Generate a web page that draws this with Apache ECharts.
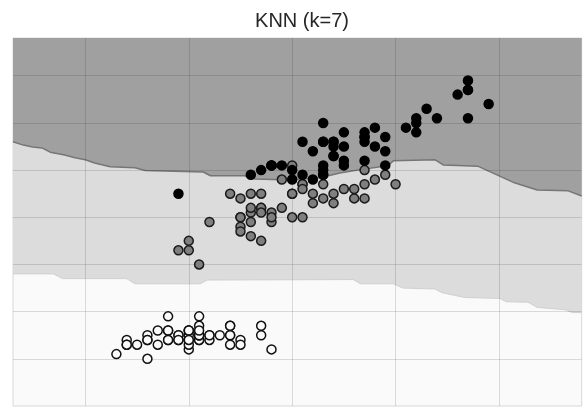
<!DOCTYPE html>
<html>
<head>
<meta charset="utf-8">
<script src="https://cdn.jsdelivr.net/npm/echarts@6/dist/echarts.min.js"></script>
<style>html,body{margin:0;padding:0;background:#fff;}#c{width:587px;height:409px;}</style>
</head>
<body>
<div id="c"></div>
<script>
// Iris: sepal length (x) vs petal length (y)
const setosaX = [5.1,4.9,4.7,4.6,5.0,5.4,4.6,5.0,4.4,4.9,5.4,4.8,4.8,4.3,5.8,5.7,5.4,5.1,5.7,5.1,5.4,5.1,4.6,5.1,4.8,5.0,5.0,5.2,5.2,4.7,4.8,5.4,5.2,5.5,4.9,5.0,5.5,4.9,4.4,5.1,5.0,4.5,4.4,5.0,5.1,4.8,5.1,4.6,5.3,5.0];
const setosaY = [1.4,1.4,1.3,1.5,1.4,1.7,1.4,1.5,1.4,1.5,1.5,1.6,1.4,1.1,1.2,1.5,1.3,1.4,1.7,1.5,1.7,1.5,1.0,1.7,1.9,1.6,1.6,1.5,1.4,1.6,1.6,1.5,1.5,1.4,1.5,1.2,1.3,1.4,1.3,1.5,1.3,1.3,1.3,1.6,1.9,1.4,1.6,1.4,1.5,1.4];
const versiX = [7.0,6.4,6.9,5.5,6.5,5.7,6.3,4.9,6.6,5.2,5.0,5.9,6.0,6.1,5.6,6.7,5.6,5.8,6.2,5.6,5.9,6.1,6.3,6.1,6.4,6.6,6.8,6.7,6.0,5.7,5.5,5.5,5.8,6.0,5.4,6.0,6.7,6.3,5.6,5.5,5.5,6.1,5.8,5.0,5.6,5.7,5.7,6.2,5.1,5.7];
const versiY = [4.7,4.5,4.9,4.0,4.6,4.5,4.7,3.3,4.6,3.9,3.5,4.2,4.0,4.7,3.6,4.4,4.5,4.1,4.5,3.9,4.8,4.0,4.9,4.7,4.3,4.4,4.8,5.0,4.5,3.5,3.8,3.7,3.9,5.1,4.5,4.5,4.7,4.4,4.1,4.0,4.4,4.6,4.0,3.3,4.2,4.2,4.2,4.3,3.0,4.1];
const virgX = [6.3,5.8,7.1,6.3,6.5,7.6,4.9,7.3,6.7,7.2,6.5,6.4,6.8,5.7,5.8,6.4,6.5,7.7,7.7,6.0,6.9,5.6,7.7,6.3,6.7,7.2,6.2,6.1,6.4,7.2,7.4,7.9,6.4,6.3,6.1,7.7,6.3,6.4,6.0,6.9,6.7,6.9,5.8,6.8,6.7,6.7,6.3,6.5,6.2,5.9];
const virgY = [6.0,5.1,5.9,5.6,5.8,6.6,4.5,6.3,5.8,6.1,5.1,5.3,5.5,5.0,5.1,5.3,5.5,6.7,6.9,5.0,5.7,4.9,6.7,4.9,5.7,6.0,4.8,4.9,5.6,5.8,6.1,6.4,5.6,5.1,5.6,6.1,5.6,5.5,4.8,5.4,5.6,5.1,5.1,5.9,5.7,5.2,5.0,5.2,5.4,5.1];

// Decision boundaries
const upperBoundX = [3.30,3.40,3.49,3.58,3.66,3.80,3.90,4.00,4.09,4.24,4.48,4.58,5.14,5.21,5.54,5.64,5.98,6.27,6.46,6.66,6.82,6.93,6.98,7.38,7.46,7.80,8.15,8.37,8.67,8.80];
const upperBoundY = [5.60,5.53,5.49,5.47,5.38,5.32,5.26,5.22,5.15,5.07,5.05,4.99,4.96,4.88,4.88,4.81,4.79,4.84,4.94,5.01,5.06,5.10,5.20,5.22,5.11,5.08,4.73,4.58,4.56,4.45];
const lowerBoundX = [3.30,3.69,3.78,4.40,4.48,5.11,5.18,6.59,6.66,6.98,7.07,7.38,7.45,7.67,8.01,8.07,8.28,8.37,8.64,8.71,8.80];
const lowerBoundY = [2.80,2.80,2.70,2.70,2.59,2.59,2.67,2.68,2.59,2.59,2.50,2.48,2.40,2.30,2.28,2.21,2.20,2.09,2.04,1.98,1.98];

const xTicks = [4,5,6,7,8];
const yTicks = [1,2,3,4,5,6,7];
const title = 'KNN (k=7)';

const zip = (a, b) => a.map((v, i) => [v, b[i]]);

const chart = echarts.init(document.getElementById('c'), null, {renderer: 'canvas'});
const ptSize = 9;
chart.setOption({
  animation: false,
  title: {
    text: title, left: 297, top: 6, textAlign: 'center',
    textStyle: {fontFamily: 'Liberation Sans, Arial, sans-serif', fontSize: 20, fontWeight: 'normal', color: '#262626'}
  },
  grid: {
    left: 13, right: 5.3, top: 38, bottom: 3,
    show: true, backgroundColor: '#fafafa', borderColor: '#d8d8d8', borderWidth: 1
  },
  xAxis: {
    type: 'value', min: 3.3, max: 8.8,
    axisLine: {show: false}, axisTick: {show: false}, axisLabel: {show: false}, splitLine: {show: false}
  },
  yAxis: {
    type: 'value', min: 0, max: 7.8,
    axisLine: {show: false}, axisTick: {show: false}, axisLabel: {show: false}, splitLine: {show: false}
  },
  series: [
    {
      type: 'line', data: zip(lowerBoundX, lowerBoundY), showSymbol: false, z: 1,
      lineStyle: {color: '#d0d0d0', width: 1},
      areaStyle: {color: '#dcdcdc', opacity: 1, origin: 'end'}
    },
    {
      type: 'line', data: zip(upperBoundX, upperBoundY), showSymbol: false, z: 2,
      lineStyle: {color: '#767676', width: 1.5},
      areaStyle: {color: '#a0a0a0', opacity: 1, origin: 'end'}
    },
    {
      type: 'line', data: [], z: 3, silent: true,
      markLine: {
        silent: true, symbol: 'none', animation: false,
        label: {show: false},
        lineStyle: {color: 'rgba(0,0,0,0.13)', type: 'solid', width: 1},
        data: xTicks.map(v => ({xAxis: v})).concat(yTicks.map(v => ({yAxis: v})))
      }
    },
    {
      type: 'scatter', data: zip(setosaX, setosaY), symbolSize: ptSize, z: 5,
      itemStyle: {color: '#fafafa', borderColor: '#111', borderWidth: 1.5, opacity: 1}
    },
    {
      type: 'scatter', data: zip(versiX, versiY), symbolSize: ptSize, z: 5,
      itemStyle: {color: '#7f7f7f', borderColor: '#1a1a1a', borderWidth: 1.5, opacity: 1}
    },
    {
      type: 'scatter', data: zip(virgX, virgY), symbolSize: ptSize, z: 5,
      itemStyle: {color: '#000', borderColor: '#000', borderWidth: 1.5, opacity: 1}
    }
  ]
});
</script>
</body>
</html>
